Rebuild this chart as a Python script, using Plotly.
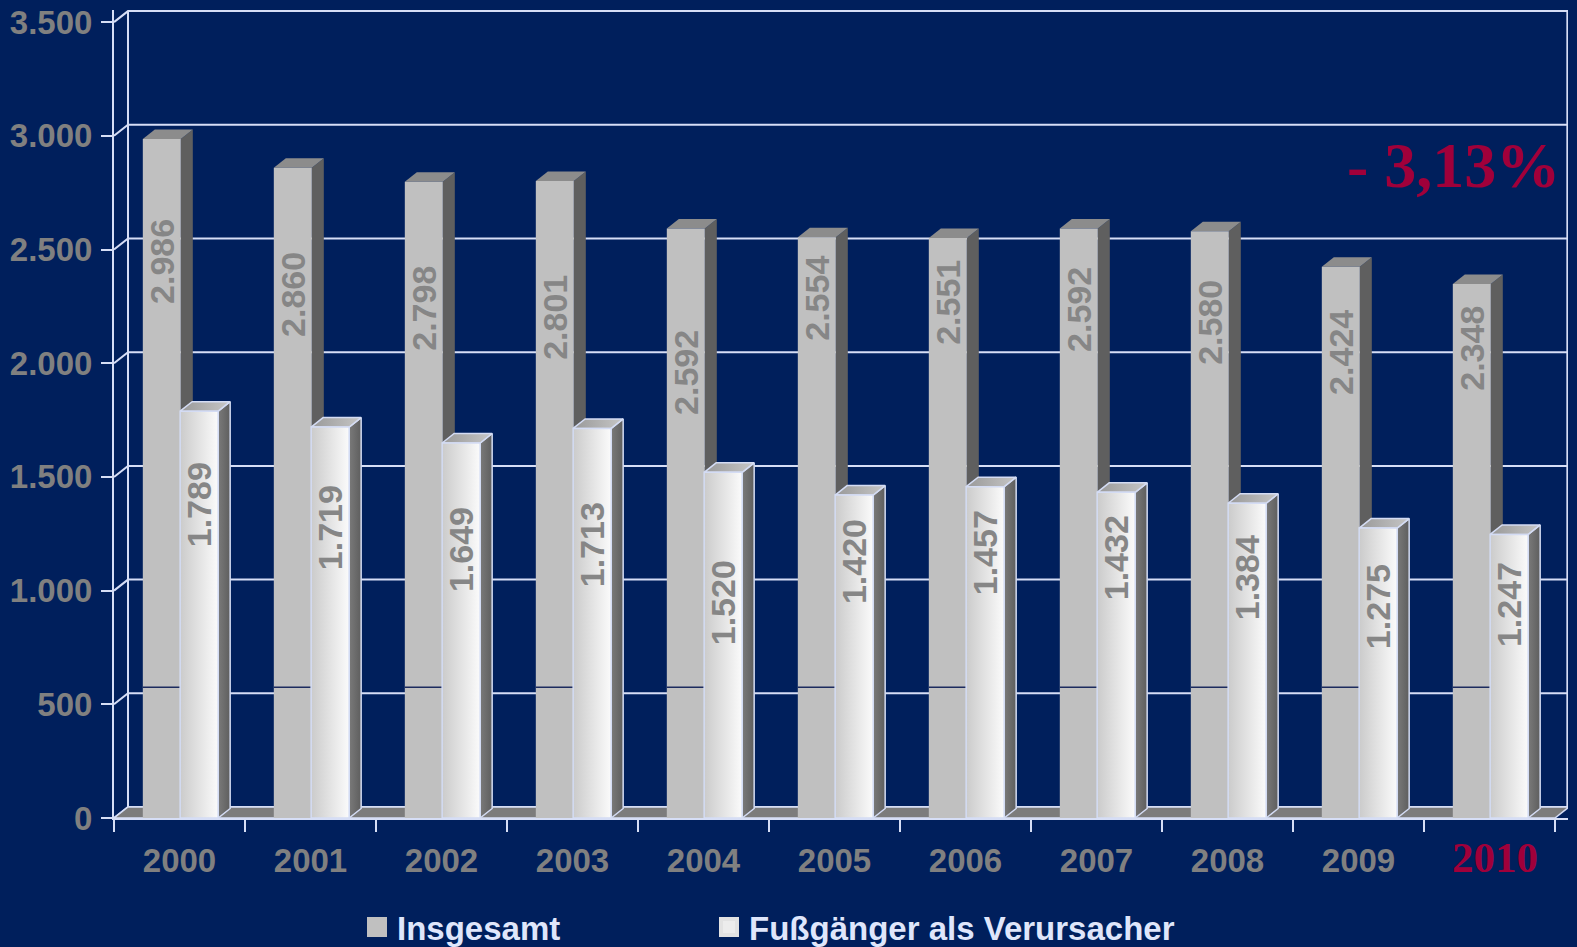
import plotly.graph_objects as go

# ---------------- data ----------------
years = ["2000", "2001", "2002", "2003", "2004", "2005", "2006", "2007", "2008", "2009", "2010"]
total = [2986, 2860, 2798, 2801, 2592, 2554, 2551, 2592, 2580, 2424, 2348]
pedestrian = [1789, 1719, 1649, 1713, 1520, 1420, 1457, 1432, 1384, 1275, 1247]
label_pos_total = [2449, 2304, 2243, 2203, 1961, 2287, 2269, 2238, 2181, 2049, 2067]
label_pos_ped = [1376, 1275, 1179, 1200, 945, 1126, 1165, 1143, 1055, 928, 937]
y_ticks = [0, 500, 1000, 1500, 2000, 2500, 3000, 3500]
y_tick_labels = ["0", "500", "1.000", "1.500", "2.000", "2.500", "3.000", "3.500"]
series_names = ["Insgesamt", "Fußgänger als Verursacher"]
change_text = "- 3,13%"

# ---------------- layout geometry ----------------
W, H = 1577, 947
ML, MR, MT, MB = 114, 9, 10, 129
PLOT_W = W - ML - MR
PLOT_H = H - MT - MB
PX_PER_CAT = 131.0
PX_PER_UNIT = 113.7 / 500.0
X_MIN = -0.5
X_MAX = X_MIN + PLOT_W / PX_PER_CAT
Y_MAX = PLOT_H / PX_PER_UNIT

BAR_W = 38 / PX_PER_CAT
BAR_DX = 12 / PX_PER_CAT
BAR_DY = 9.5 / PX_PER_UNIT
WALL_DX = 14 / PX_PER_CAT
WALL_DY = 11 / PX_PER_UNIT
OFF_TOTAL = -0.28
OFF_PED = 0.005

BG = "#001f5c"
GRID = "#d6def6"
TEXT_GRAY = "#808080"
LABEL_GRAY = "#868686"
RED = "#a0003a"
SANS = "Liberation Sans, Arial, sans-serif"
SERIF = "Liberation Serif, Times New Roman, serif"

fig = go.Figure()


def poly(xs, ys, color=None, gradient=None, line_color=None, line_width=0):
    kw = dict(
        x=list(xs) + [xs[0]], y=list(ys) + [ys[0]], mode="lines", fill="toself",
        line=dict(color=line_color or "rgba(0,0,0,0)", width=line_width),
        hoverinfo="skip", showlegend=False,
    )
    if gradient is not None:
        kw["fillgradient"] = dict(type="horizontal", colorscale=gradient)
    else:
        kw["fillcolor"] = color
    fig.add_trace(go.Scatter(**kw))


# ---------------- back wall ----------------
gx, gy = [], []
bx = X_MIN + WALL_DX
for v in y_ticks:
    gx += [X_MIN, bx, X_MAX, None]
    gy += [v, v + WALL_DY, v + WALL_DY, None]
gx += [bx, bx, None, X_MAX - 0.005, X_MAX - 0.005, None]
gy += [WALL_DY, y_ticks[-1] + WALL_DY, None, WALL_DY, y_ticks[-1] + WALL_DY, None]
fig.add_trace(go.Scatter(x=gx, y=gy, mode="lines", line=dict(color=GRID, width=2),
                         hoverinfo="skip", showlegend=False))

# floor
n = len(years)
poly([X_MIN, n - 0.5, n - 0.5 + WALL_DX, X_MIN + WALL_DX], [0, 0, WALL_DY, WALL_DY],
     color="#7c7c7c", line_color=GRID, line_width=1.5)

# ---------------- bars ----------------
def bar3d(x0, h, front, side, top, outline=None, gradient_front=None, gradient_side=None,
          gradient_top=None):
    x1 = x0 + BAR_W
    lw = 1.5 if outline else 0
    poly([x1, x1 + BAR_DX, x1 + BAR_DX, x1], [0, BAR_DY, h + BAR_DY, h],
         color=side, gradient=gradient_side, line_color=outline, line_width=lw)
    poly([x0, x1, x1 + BAR_DX, x0 + BAR_DX], [h, h, h + BAR_DY, h + BAR_DY],
         color=top, gradient=gradient_top, line_color=outline, line_width=lw)
    poly([x0, x1, x1, x0], [0, 0, h, h],
         color=front, gradient=gradient_front, line_color=outline, line_width=lw)


for i, v in enumerate(total):
    bar3d(i + OFF_TOTAL, v, "#c0c0c0", "#5f5f5f", "#8c8c8c")

# thin dark seam across the grey bars (as in the original rendering)
sx, sy = [], []
for i in range(n):
    sx += [i + OFF_TOTAL, i + OFF_TOTAL + BAR_W + BAR_DX, None]
    sy += [575, 575, None]
fig.add_trace(go.Scatter(x=sx, y=sy, mode="lines", line=dict(color="#1c2b5e", width=1.5),
                         hoverinfo="skip", showlegend=False))

for i, v in enumerate(pedestrian):
    bar3d(i + OFF_PED, v, None, None, None, outline="#d4dcf4",
          gradient_front=[[0, "#cbcbcb"], [1, "#fbfbfb"]],
          gradient_side=[[0, "#7a7a7a"], [1, "#5e5e5e"]],
          gradient_top=[[0, "#999999"], [1, "#c6c6c6"]])

# value labels
annotations = []
for i in range(n):
    for val, pos, off in ((total[i], label_pos_total[i], OFF_TOTAL),
                          (pedestrian[i], label_pos_ped[i], OFF_PED)):
        annotations.append(dict(
            x=i + off + BAR_W / 2, y=pos, xref="x", yref="y",
            text=f"{val:,}".replace(",", "."), textangle=-90, showarrow=False,
            font=dict(family=SANS, size=34, color=LABEL_GRAY, weight="bold"),
            xanchor="center", yanchor="middle",
        ))

annotations.append(dict(
    x=(1453 - ML) / PLOT_W, y=(H - MB - 166) / PLOT_H, xref="paper", yref="paper",
    text=f"<b>{change_text}</b>", showarrow=False,
    font=dict(family=SERIF, size=64, color=RED), xanchor="center", yanchor="middle",
))

# legend entries (two legends so the spacing matches the original)
fig.add_trace(go.Scatter(x=[None], y=[None], mode="markers", name=series_names[0],
                         legend="legend",
                         marker=dict(symbol="square", size=20, color="#c0c0c0",
                                     line=dict(width=4, color="#c0c0c0"))))
fig.add_trace(go.Scatter(x=[None], y=[None], mode="markers", name=series_names[1],
                         legend="legend2",
                         marker=dict(symbol="square", size=20, color="#ececec",
                                     line=dict(width=4, color="#e2e2e2"))))

# dummy trace for the boundary-tick axis
fig.add_trace(go.Scatter(x=[X_MIN], y=[0], xaxis="x2", mode="markers",
                         marker=dict(opacity=0), hoverinfo="skip", showlegend=False))

tick_text = list(years[:-1]) + [
    "<span style='font-family:Liberation Serif;color:" + RED
    + ";font-size:43px'><b>&nbsp;" + years[-1] + "</b></span>"
]

legend_font = dict(family=SANS, size=33, color="#dfe6fb", weight="bold")
legend_y = -(927 - (H - MB)) / PLOT_H

fig.update_layout(
    width=W, height=H,
    margin=dict(l=ML, r=MR, t=MT, b=MB, pad=0, autoexpand=False),
    paper_bgcolor=BG, plot_bgcolor=BG,
    showlegend=True,
    legend=dict(orientation="h", x=(357 - ML) / PLOT_W, y=legend_y,
                xanchor="left", yanchor="middle", font=legend_font,
                bgcolor="rgba(0,0,0,0)", itemwidth=30),
    legend2=dict(orientation="h", x=(709 - ML) / PLOT_W, y=legend_y,
                 xanchor="left", yanchor="middle", font=legend_font,
                 bgcolor="rgba(0,0,0,0)", itemwidth=30),
    xaxis=dict(range=[X_MIN, X_MAX], tickvals=list(range(n)), ticktext=tick_text,
               showgrid=False, zeroline=False, showline=True, linecolor=GRID, linewidth=2,
               ticks="", ticklabelstandoff=12,
               tickfont=dict(family=SANS, size=33, color=TEXT_GRAY, weight="bold"),
               fixedrange=True),
    xaxis2=dict(range=[X_MIN, X_MAX], overlaying="x", anchor="y", side="bottom",
                tickvals=[k - 0.5 for k in range(n + 1)], showticklabels=False,
                ticks="outside", ticklen=13, tickwidth=2, tickcolor=GRID,
                showgrid=False, zeroline=False, showline=False),
    yaxis=dict(range=[0, Y_MAX], tickvals=y_ticks, ticktext=y_tick_labels,
               showgrid=False, zeroline=False, showline=True, linecolor=GRID, linewidth=2,
               ticks="outside", ticklen=11, tickwidth=2, tickcolor=GRID,
               ticklabelstandoff=2,
               tickfont=dict(family=SANS, size=33, color=TEXT_GRAY, weight="bold"),
               fixedrange=True),
    annotations=annotations,
)

fig.write_html("out.html", config={"displayModeBar": False},
               post_script="document.body.style.margin='0';document.body.style.overflow='hidden';")
